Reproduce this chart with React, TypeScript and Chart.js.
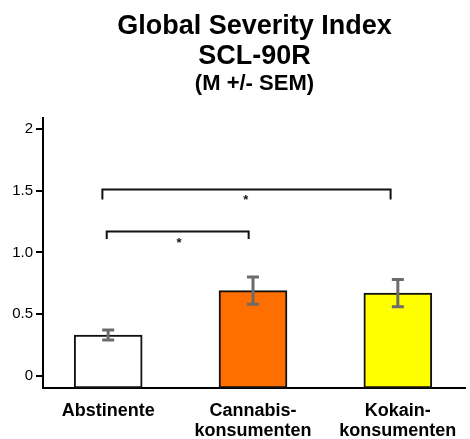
import React, { useEffect, useRef } from "react";
import { Chart, registerables } from "chart.js";

Chart.register(...registerables);

// ---- data ----
const categories: string[][] = [["Abstinente"], ["Cannabis-", "konsumenten"], ["Kokain-", "konsumenten"]];
const means: number[] = [0.33, 0.69, 0.67];
const semLow: number[] = [0.29, 0.58, 0.56];
const semHigh: number[] = [0.37, 0.8, 0.78];
const barColors: string[] = ["#ffffff", "#ff6e00", "#ffff00"];
const yTickValues: number[] = [0, 0.5, 1, 1.5, 2];
const yTickLabels: string[] = ["0", "0.5", "1.0", "1.5", "2"];
const yMin = -0.1;
const yMax = 2.09;
// significance brackets
const bracketFrom: number[] = [-0.04, -0.01];
const bracketTo: number[] = [1.95, 0.97];
const bracketLevel: number[] = [1.51, 1.17];
const bracketDrop: number[] = [1.43, 1.11];
const starX: number[] = [0.95, 0.49];
const starY: number[] = [1.42, 1.07];
const starText: string[] = ["*", "*"];

const FONT = "'Liberation Sans', Arial, Helvetica, sans-serif";

const annotPlugin = {
  id: "annot",
  afterDatasetsDraw(chart: any) {
    const ctx = chart.ctx;
    const xs = chart.scales.x;
    const ys = chart.scales.y;
    ctx.save();
    // error bars
    ctx.strokeStyle = "#6b6b6b";
    ctx.lineWidth = 3;
    ctx.lineCap = "butt";
    for (let i = 0; i < means.length; i++) {
      const x = xs.getPixelForValue(i);
      const y1 = ys.getPixelForValue(semLow[i]);
      const y2 = ys.getPixelForValue(semHigh[i]);
      ctx.beginPath();
      ctx.moveTo(x, y1);
      ctx.lineTo(x, y2);
      ctx.moveTo(x - 6, y1);
      ctx.lineTo(x + 6, y1);
      ctx.moveTo(x - 6, y2);
      ctx.lineTo(x + 6, y2);
      ctx.stroke();
    }
    // brackets
    ctx.strokeStyle = "#111";
    ctx.lineWidth = 2;
    for (let i = 0; i < bracketFrom.length; i++) {
      const xa = xs.getPixelForValue(bracketFrom[i]);
      const xb = xs.getPixelForValue(bracketTo[i]);
      const yl = ys.getPixelForValue(bracketLevel[i]);
      const yd = ys.getPixelForValue(bracketDrop[i]);
      ctx.beginPath();
      ctx.moveTo(xa, yd);
      ctx.lineTo(xa, yl);
      ctx.lineTo(xb, yl);
      ctx.lineTo(xb, yd);
      ctx.stroke();
    }
    ctx.fillStyle = "#111";
    ctx.font = `bold 13px ${FONT}`;
    ctx.textAlign = "center";
    ctx.textBaseline = "middle";
    for (let i = 0; i < starX.length; i++) {
      ctx.fillText(starText[i], xs.getPixelForValue(starX[i]), ys.getPixelForValue(starY[i]));
    }
    ctx.restore();
  },
};

export default function App() {
  const ref = useRef<HTMLCanvasElement | null>(null);
  useEffect(() => {
    document.body.style.margin = "0";
    const canvas = ref.current!;
    const chart = new Chart(canvas, {
      type: "bar",
      data: {
        datasets: [
          {
            data: means.map((v, i) => ({ x: i, y: v })),
            backgroundColor: barColors,
            borderColor: "#111",
            borderWidth: 2,
            barThickness: 68,
            borderSkipped: false,
            base: yMin,
          },
        ],
      },
      options: {
        responsive: false,
        animation: false,
        layout: { padding: { top: 0, right: 0, bottom: 0, left: 0 } },
        plugins: {
          legend: { display: false },
          tooltip: { enabled: false },
          title: {
            display: true,
            fullSize: false,
            text: ["Global Severity Index", "SCL-90R"],
            color: "#000",
            font: { family: FONT, size: 27, weight: "bold", lineHeight: 1.11 },
            padding: { top: 12, bottom: 0 },
          },
          subtitle: {
            display: true,
            fullSize: false,
            text: "(M +/- SEM)",
            color: "#000",
            font: { family: FONT, size: 22, weight: "bold", lineHeight: 1.1 },
            padding: { top: 0, bottom: 22 },
          },
        },
        scales: {
          x: {
            type: "linear",
            min: -0.45,
            max: 2.47,
            offset: false,
            grid: { display: false, drawTicks: false },
            border: { display: true, color: "#000", width: 2 },
            afterBuildTicks: (scale: any) => {
              scale.ticks = categories.map((_, i) => ({ value: i }));
            },
            afterFit: (scale: any) => {
              scale.height = 51;
            },
            ticks: {
              autoSkip: false,
              maxRotation: 0,
              padding: 13,
              color: "#000",
              font: { family: FONT, size: 18, weight: "bold", lineHeight: 1.11 },
              callback: (v: any) => categories[Math.round(v)] ?? "",
            },
          },
          y: {
            type: "linear",
            min: yMin,
            max: yMax,
            grid: { display: true, drawOnChartArea: false, drawTicks: true, tickLength: 7, color: "#000", lineWidth: 2 },
            border: { display: true, color: "#000", width: 2 },
            afterBuildTicks: (scale: any) => {
              scale.ticks = yTickValues.map((v) => ({ value: v }));
            },
            afterFit: (scale: any) => {
              scale.width = 43;
            },
            ticks: {
              padding: 3,
              color: "#000",
              font: { family: FONT, size: 15 },
              callback: (v: any) => {
                const idx = yTickValues.indexOf(Number(v));
                return idx >= 0 ? yTickLabels[idx] : "";
              },
            },
          },
        },
      },
      plugins: [annotPlugin],
    } as any);
    return () => chart.destroy();
  }, []);
  return (
    <div style={{ width: 470, height: 439 }}>
      <canvas ref={ref} width={470} height={439} />
    </div>
  );
}
